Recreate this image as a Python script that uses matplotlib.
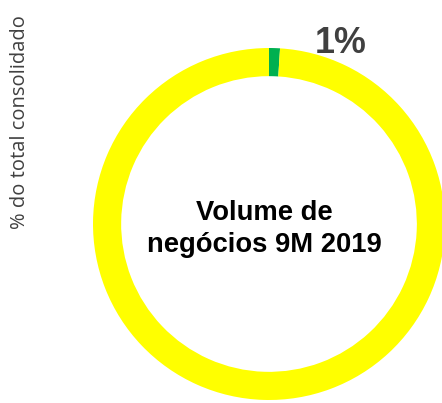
import matplotlib
matplotlib.use("Agg")
import matplotlib.pyplot as plt

# Share of consolidated total
categories = ["Outros", "Volume de negócios 9M 2019"]
shares = [1, 99]
slice_colors = ["#00B050", "#FFFF00"]
center_lines = ["Volume de", "negócios 9M 2019"]
axis_label = "% do total consolidado"

W, H, DPI = 442, 403, 100
fig = plt.figure(figsize=(W / DPI, H / DPI), dpi=DPI)
fig.patch.set_facecolor("white")

# Donut centred at (269, 224) px with outer radius 176 px
cx, cy, r = 269, 224, 176
ax = fig.add_axes([(cx - r) / W, (H - cy - r) / H, 2 * r / W, 2 * r / H])

wedges, _ = ax.pie(
    shares,
    colors=slice_colors,
    startangle=90,
    counterclock=False,
    radius=1.0,
    wedgeprops=dict(width=0.16, edgecolor="none", linewidth=0),
)
for w in wedges:
    w.set_clip_on(False)
ax.set_xlim(-1, 1)
ax.set_ylim(-1, 1)
ax.set_aspect("equal")
ax.axis("off")

renderer = fig.canvas.get_renderer()


def fitted_text(x_px, base_px, s, width_px, **kw):
    """Place text on a pixel baseline, sized to a given rendered width."""
    t = fig.text(x_px / W, 1 - base_px / H, s, ha="center", va="baseline",
                 fontsize=10, **kw)
    w = t.get_window_extent(renderer).width
    t.set_fontsize(10 * width_px / w)
    return t


# Percentage label of the small slice
fitted_text(341, 53, f"{shares[0]}%", 52, fontweight="bold",
            color="#404040", family="Liberation Sans")

# Centre caption, two lines
t2 = fitted_text(264, 252, center_lines[1], 234, fontweight="bold",
                 color="#000000", family="Liberation Sans")
fig.text(264 / W, 1 - 220 / H, center_lines[0], ha="center", va="baseline",
         fontsize=t2.get_fontsize(), fontweight="bold", color="#000000",
         family="Liberation Sans")

# Vertical axis title
fig.text(20 / W, 1 - 122 / H, axis_label, ha="center", va="center",
         rotation=90, fontsize=14.5, color="#404040", family="Open Sans")

fig.savefig("out.png", dpi=DPI, facecolor="white")
